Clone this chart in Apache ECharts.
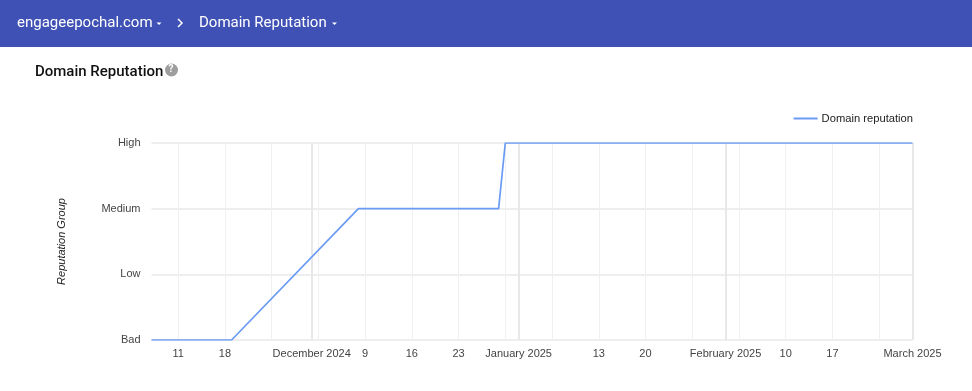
<!DOCTYPE html>
<html>
<head>
<meta charset="utf-8">
<style>html,body{margin:0;padding:0;background:#fff}#c{width:972px;height:391px}</style>
<script src="https://cdn.jsdelivr.net/npm/echarts@6/dist/echarts.min.js"></script>
</head>
<body>
<div id="c"></div>
<script>
const reputationLevels = ["Bad", "Low", "Medium", "High"];
const pointDates = ["2024-11-07", "2024-11-19", "2024-12-08", "2024-12-29", "2024-12-30", "2025-03-01"];
const pointLevels = ["Bad", "Bad", "Medium", "Medium", "High", "High"];
const weekTicks = ["2024-11-11", "2024-11-18", "2024-11-25", "2024-12-02", "2024-12-09", "2024-12-16", "2024-12-23", "2024-12-30", "2025-01-06", "2025-01-13", "2025-01-20", "2025-01-27", "2025-02-03", "2025-02-10", "2025-02-17", "2025-02-24"];
const monthTicks = ["2024-12-01", "2025-01-01", "2025-02-01", "2025-03-01"];
const labelDates = ["2024-11-11", "2024-11-18", "2024-12-01", "2024-12-09", "2024-12-16", "2024-12-23", "2025-01-01", "2025-01-13", "2025-01-20", "2025-02-01", "2025-02-10", "2025-02-17", "2025-03-01"];
const labelTexts = ["11", "18", "December 2024", "9", "16", "23", "January 2025", "13", "20", "February 2025", "10", "17", "March 2025"];

const ts = d => new Date(d + "T00:00:00Z").getTime();
const labelByTime = new Map(labelDates.map((d, i) => [ts(d), labelTexts[i]]));
const chartFont = '"Liberation Sans", Arial, sans-serif';
const navText = (x, text) => ({
  type: "text", left: x, top: 16,
  style: { text, fill: "#fff", font: '15px Roboto, sans-serif' }
});
const caret = x => ({
  type: "polygon",
  shape: { points: [[x, 22.5], [x + 5, 22.5], [x + 2.5, 25]] },
  style: { fill: "#fff" }
});

const chart = echarts.init(document.getElementById("c"), null, { renderer: "canvas" });
chart.setOption({
  animation: false,
  backgroundColor: "#fff",
  textStyle: { fontFamily: chartFont },
  grid: { left: 151.5, right: 59.5, top: 143, bottom: 51, containLabel: false },
  legend: {
    right: 59, top: 113, padding: 0, itemWidth: 24, itemHeight: 2, itemGap: 3,
    icon: "rect",
    data: ["Domain reputation"],
    textStyle: { fontSize: 11.2, color: "#222", fontFamily: chartFont, padding: [0, 0, 0, -1] }
  },
  xAxis: {
    type: "value",
    min: ts(pointDates[0]),
    max: ts("2025-03-01"),
    axisLine: { show: false },
    axisTick: { show: false, customValues: weekTicks.concat(monthTicks).map(ts) },
    splitLine: { show: true, lineStyle: { color: "#f0f0f0", width: 1 } },
    axisLabel: {
      customValues: labelDates.map(ts),
      formatter: v => labelByTime.get(+v) || "",
      hideOverlap: false, showMinLabel: true, showMaxLabel: true,
      color: "#444", fontSize: 11, margin: 8, fontFamily: chartFont
    }
  },
  yAxis: {
    type: "category",
    data: reputationLevels,
    boundaryGap: false,
    name: "Reputation Group",
    nameLocation: "middle",
    nameGap: 84,
    nameRotate: 90,
    nameTextStyle: { fontStyle: "italic", fontSize: 11, color: "#222", fontFamily: chartFont },
    axisLine: { show: false },
    axisTick: { show: false },
    splitLine: { show: true, lineStyle: { color: "#eeeeee", width: 2 } },
    axisLabel: { color: "#444", fontSize: 11, margin: 11, padding: [3, 0, 0, 0], fontFamily: chartFont }
  },
  series: [
    {
      name: "Months",
      type: "line",
      data: [],
      silent: true,
      markLine: {
        silent: true, symbol: "none", label: { show: false },
        lineStyle: { color: "#e8e8e8", width: 2, type: "solid" },
        data: monthTicks.map(d => ({ xAxis: ts(d) }))
      }
    },
    {
      name: "Domain reputation",
      type: "line",
      data: pointDates.map((d, i) => [ts(d), pointLevels[i]]),
      showSymbol: false,
      lineStyle: { color: "#699bf5", width: 1.7 },
      itemStyle: { color: "#699bf5" },
      z: 5
    }
  ],
  graphic: [
    { type: "rect", shape: { x: 0, y: 0, width: 972, height: 47 }, style: { fill: "#3f51b5" } },
    navText(17, "engageepochal.com"),
    caret(156.5),
    { type: "polyline", shape: { points: [[178, 19], [182, 23], [178, 27]] }, style: { stroke: "#fff", lineWidth: 1.5, fill: null } },
    navText(199, "Domain Reputation"),
    caret(332),
    { type: "text", left: 35, top: 65, style: { text: "Domain Reputation", fill: "#111", font: '500 15px Roboto, sans-serif' } },
    { type: "circle", shape: { cx: 171.5, cy: 70, r: 6.5 }, style: { fill: "#9e9e9e" } },
    { type: "text", left: 168.5, top: 64.5, style: { text: "?", fill: "#fff", font: 'bold 10px Roboto, sans-serif' } }
  ]
});
</script>
</body>
</html>
